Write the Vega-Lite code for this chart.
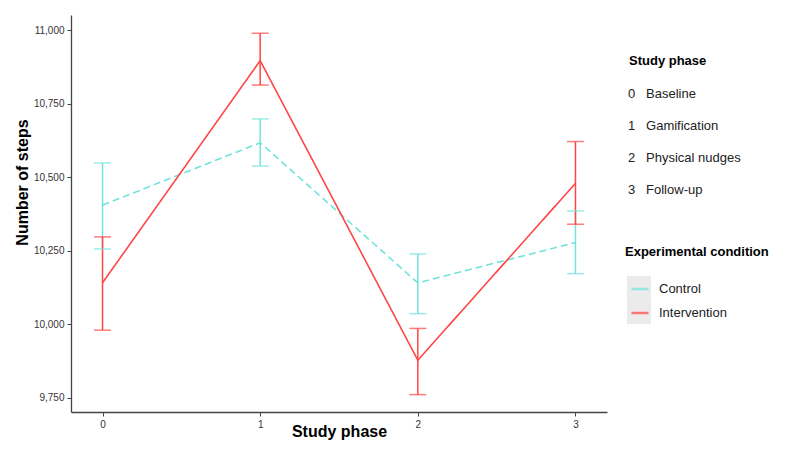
{
  "$schema": "https://vega.github.io/schema/vega-lite/v6.json",
  "width": 536,
  "height": 397,
  "autosize": {"type": "none"},
  "padding": {"left": 71, "top": 15, "right": 193, "bottom": 43},
  "config": {
    "view": {"stroke": null},
    "font": "Liberation Sans",
    "axis": {
      "grid": false,
      "domainColor": "#444444",
      "domainWidth": 1.3,
      "tickColor": "#444444",
      "tickSize": 4,
      "labelPadding": 3,
      "labelFontSize": 10,
      "labelColor": "#333333",
      "titleFontSize": 16,
      "titleFontWeight": "bold",
      "titleColor": "#000000"
    },
    "legend": {"padding": 0, "titleFontSize": 13, "titleFontWeight": "bold", "titleColor": "#000000", "labelFontSize": 13, "labelColor": "#222222"}
  },
  "data": {
    "values": [
      {"phase": 0, "condition": "Control", "mean": 10405, "lower": 10256, "upper": 10548},
      {"phase": 1, "condition": "Control", "mean": 10617, "lower": 10538, "upper": 10698},
      {"phase": 2, "condition": "Control", "mean": 10141, "lower": 10036, "upper": 10239},
      {"phase": 3, "condition": "Control", "mean": 10278, "lower": 10172, "upper": 10385},
      {"phase": 0, "condition": "Intervention", "mean": 10141, "lower": 9980, "upper": 10297},
      {"phase": 1, "condition": "Intervention", "mean": 10896, "lower": 10813, "upper": 10989},
      {"phase": 2, "condition": "Intervention", "mean": 9878, "lower": 9761, "upper": 9986},
      {"phase": 3, "condition": "Intervention", "mean": 10479, "lower": 10340, "upper": 10621}
    ]
  },
  "layer": [
    {
      "mark": {"type": "rule", "strokeWidth": 1.5},
      "encoding": {
        "x": {"field": "phase", "type": "quantitative", "scale": {"domain": [-0.2, 3.2], "nice": false, "zero": false},
              "axis": {"values": [0, 1, 2, 3], "format": "d", "title": "Study phase", "titleBaseline": "alphabetic", "titleY": 24}},
        "y": {"field": "lower", "type": "quantitative", "scale": {"domain": [9702, 11051], "nice": false, "zero": false},
              "axis": {"values": [9750, 10000, 10250, 10500, 10750, 11000], "format": ",.0f", "title": "Number of steps", "titleBaseline": "middle", "titleX": -49, "titleY": 167}},
        "y2": {"field": "upper"},
        "color": {"field": "condition", "type": "nominal", "scale": {"domain": ["Control", "Intervention"], "range": ["#70e4db", "#ff4545"]}}
      }
    },
    {
      "mark": {"type": "tick", "orient": "horizontal", "size": 17, "thickness": 1.5},
      "encoding": {
        "x": {"field": "phase", "type": "quantitative"},
        "y": {"field": "upper", "type": "quantitative"},
        "color": {"field": "condition", "type": "nominal"}
      }
    },
    {
      "mark": {"type": "tick", "orient": "horizontal", "size": 17, "thickness": 1.5},
      "encoding": {
        "x": {"field": "phase", "type": "quantitative"},
        "y": {"field": "lower", "type": "quantitative"},
        "color": {"field": "condition", "type": "nominal"}
      }
    },
    {
      "mark": {"type": "line", "strokeWidth": 1.6},
      "encoding": {
        "x": {"field": "phase", "type": "quantitative"},
        "y": {"field": "mean", "type": "quantitative"},
        "color": {"field": "condition", "type": "nominal",
                  "legend": {"title": "Experimental condition", "orient": "none", "legendX": 554, "legendY": 231, "zindex": 2, "symbolType": "stroke", "symbolSize": 289, "symbolStrokeWidth": 2.5, "symbolDash": [1, 0], "symbolOffset": 5, "labelOffset": 9, "titlePadding": 20, "rowPadding": 7}},
        "strokeDash": {"condition": {"test": "datum.condition === 'Control'", "value": [7, 4]}, "value": [1, 0]}
      }
    },
    {
      "data": {"values": [{"key": "a"}, {"key": "b"}]},
      "mark": {"type": "point", "size": 0, "strokeWidth": 0, "filled": true},
      "encoding": {
        "fill": {"field": "key", "type": "nominal", "scale": {"domain": ["a", "b"], "range": ["#ebebeb", "#ebebeb"]},
                 "legend": {"title": null, "orient": "none", "legendX": 556, "legendY": 261, "zindex": 1, "symbolType": "square", "symbolSize": 576, "symbolOpacity": 1, "symbolStrokeWidth": 0, "symbolOffset": 0, "labelExpr": "''", "rowPadding": 0}}
      }
    },
    {
      "data": {"values": [
        {"label": "0\u00a0\u00a0\u00a0Baseline"},
        {"label": "1\u00a0\u00a0\u00a0Gamification"},
        {"label": "2\u00a0\u00a0\u00a0Physical nudges"},
        {"label": "3\u00a0\u00a0\u00a0Follow-up"}
      ]},
      "mark": {"type": "point", "opacity": 0},
      "encoding": {
        "shape": {"field": "label", "type": "nominal",
                  "legend": {"title": "Study phase", "orient": "none", "legendX": 558, "legendY": 40, "symbolSize": 0, "symbolOpacity": 0, "symbolOffset": 0, "labelOffset": -14, "titlePadding": 19, "rowPadding": 18}}
      }
    }
  ]
}
